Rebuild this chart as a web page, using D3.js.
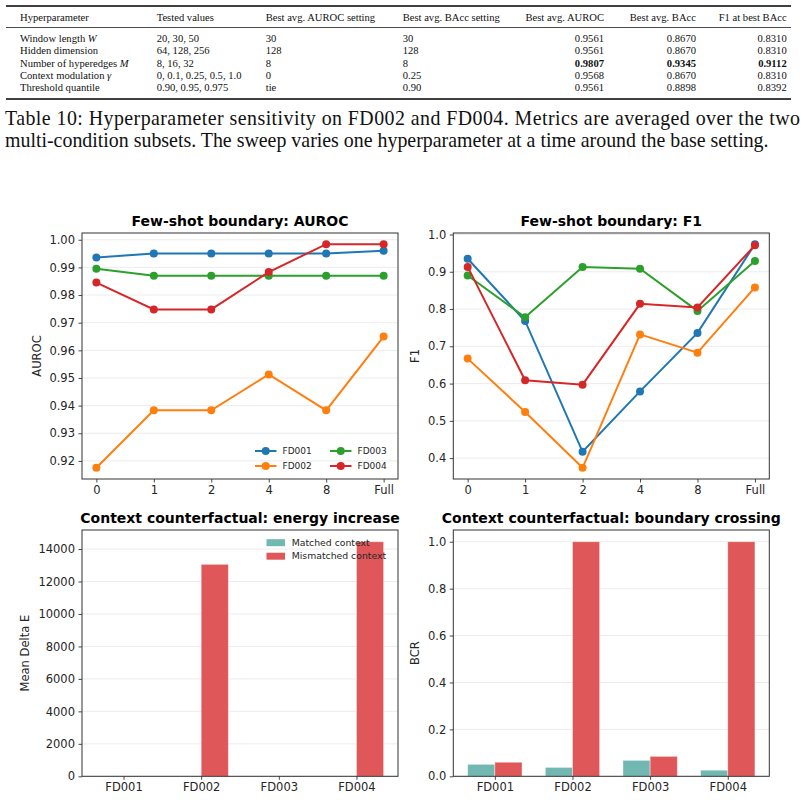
<!DOCTYPE html>
<html>
<head>
<meta charset="utf-8">
<script src="https://cdn.jsdelivr.net/npm/d3@7"></script>
<style>
  body { margin: 0; background: #fff; }
  .tick text { font-family: "DejaVu Sans", sans-serif; font-size: 11.5px; fill: #262626; }
  .tick line { stroke: #333; stroke-width: 0.9; }
  .serif { font-family: "Liberation Serif", "Times New Roman", serif; fill: #111; }
</style>
</head>
<body>
<div id="chart"></div>
<script>
// table data
var tableHeader = ["Hyperparameter", "Tested values", "Best avg. AUROC setting", "Best avg. BAcc setting", "Best avg. AUROC", "Best avg. BAcc", "F1 at best BAcc"];
var paramNames = [["Window length ", "W"], ["Hidden dimension", ""], ["Number of hyperedges ", "M"], ["Context modulation ", "\u03b3"], ["Threshold quantile", ""]];
var testedValues = ["20, 30, 50", "64, 128, 256", "8, 16, 32", "0, 0.1, 0.25, 0.5, 1.0", "0.90, 0.95, 0.975"];
var bestAurocSetting = ["30", "128", "8", "0", "tie"];
var bestBaccSetting = ["30", "128", "8", "0.25", "0.90"];
var bestAuroc = ["0.9561", "0.9561", "0.9807", "0.9568", "0.9561"];
var bestBacc = ["0.8670", "0.8670", "0.9345", "0.8670", "0.8898"];
var f1AtBestBacc = ["0.8310", "0.8310", "0.9112", "0.8310", "0.8392"];
var boldRow = 2;

var captionLines = [
  "Table 10: Hyperparameter sensitivity on FD002 and FD004.  Metrics are averaged over the two",
  "multi-condition subsets. The sweep varies one hyperparameter at a time around the base setting."
];

// few-shot data
var shots = ["0", "1", "2", "4", "8", "Full"];
var subsets = ["FD001", "FD002", "FD003", "FD004"];
var aurocFD001 = [0.9936, 0.995, 0.995, 0.995, 0.995, 0.996];
var aurocFD002 = [0.9175, 0.9383, 0.9383, 0.9513, 0.9383, 0.9650];
var aurocFD003 = [0.9895, 0.987, 0.987, 0.987, 0.987, 0.987];
var aurocFD004 = [0.9845, 0.9748, 0.9748, 0.9883, 0.9984, 0.9984];
var f1FD001 = [0.935, 0.768, 0.417, 0.579, 0.736, 0.974];
var f1FD002 = [0.667, 0.524, 0.374, 0.732, 0.683, 0.858];
var f1FD003 = [0.890, 0.778, 0.913, 0.908, 0.795, 0.929];
var f1FD004 = [0.913, 0.609, 0.597, 0.814, 0.804, 0.971];
var aurocTicks = [0.92, 0.93, 0.94, 0.95, 0.96, 0.97, 0.98, 0.99, 1.00];
var f1Ticks = [0.4, 0.5, 0.6, 0.7, 0.8, 0.9, 1.0];

// counterfactual data
var matchedEnergy = [3, 4, 2, 5];
var mismatchedEnergy = [10, 13057, 15, 14450];
var energyTicks = [0, 2000, 4000, 6000, 8000, 10000, 12000, 14000];
var matchedBCR = [0.051, 0.038, 0.068, 0.026];
var mismatchedBCR = [0.060, 1.0, 0.085, 1.0];
var bcrTicks = [0, 0.2, 0.4, 0.6, 0.8, 1.0];

var lineColors = ["#1f77b4", "#ff7f0e", "#2ca02c", "#d62728"];
var matchedColor = "#72b8b2";
var mismatchedColor = "#e0575a";

var svg = d3.select("#chart").append("svg")
  .attr("width", 805)
  .attr("height", 800);

svg.append("rect").attr("width", 805).attr("height", 800).attr("fill", "#fff");

// ---------- table ----------
var table = svg.append("g");
var ruleX0 = 6, ruleX1 = 791;
table.append("line").attr("x1", ruleX0).attr("x2", ruleX1).attr("y1", 6).attr("y2", 6).attr("stroke", "#000").attr("stroke-width", 1.3);
table.append("line").attr("x1", ruleX0).attr("x2", ruleX1).attr("y1", 27.5).attr("y2", 27.5).attr("stroke", "#000").attr("stroke-width", 0.7);
table.append("line").attr("x1", ruleX0).attr("x2", ruleX1).attr("y1", 99).attr("y2", 99).attr("stroke", "#000").attr("stroke-width", 1.3);

var colX = [20, 156.7, 265.7, 402.7, 604, 696, 786.7];
var colAnchor = ["start", "start", "start", "start", "end", "end", "end"];
var tableFont = 10.6;

tableHeader.forEach(function(h, i) {
  table.append("text").attr("class", "serif")
    .attr("x", colX[i]).attr("y", 20.5)
    .attr("text-anchor", colAnchor[i])
    .attr("font-size", tableFont)
    .text(h);
});

var rowY = [42, 54.3, 66.6, 78.9, 91.2];
paramNames.forEach(function(p, r) {
  var t = table.append("text").attr("class", "serif")
    .attr("x", colX[0]).attr("y", rowY[r]).attr("font-size", tableFont);
  t.append("tspan").text(p[0]);
  if (p[1]) t.append("tspan").attr("font-style", "italic").text(p[1]);
  var cols = [testedValues, bestAurocSetting, bestBaccSetting, bestAuroc, bestBacc, f1AtBestBacc];
  cols.forEach(function(col, c) {
    table.append("text").attr("class", "serif")
      .attr("x", colX[c + 1]).attr("y", rowY[r])
      .attr("text-anchor", colAnchor[c + 1])
      .attr("font-size", tableFont)
      .attr("font-weight", (r == boldRow && c >= 3) ? "bold" : "normal")
      .text(col[r]);
  });
});

// caption
svg.append("text").attr("class", "serif")
  .attr("x", 5).attr("y", 124.5).attr("font-size", 19.9)
  .attr("textLength", 795).attr("lengthAdjust", "spacing")
  .text(captionLines[0]);
svg.append("text").attr("class", "serif")
  .attr("x", 5).attr("y", 146.5).attr("font-size", 19.9)
  .text(captionLines[1]);

// ---------- helpers ----------
function frame(g, w, h) {
  g.append("rect").attr("width", w).attr("height", h)
    .attr("fill", "none").attr("stroke", "#333").attr("stroke-width", 1);
}

function grid(g, y, ticks, w) {
  g.append("g").selectAll("line").data(ticks).enter().append("line")
    .attr("x1", 0).attr("x2", w)
    .attr("y1", d => y(d)).attr("y2", d => y(d))
    .attr("stroke", "#b0b0b0").attr("stroke-opacity", 0.3).attr("stroke-width", 0.8);
}

function axes(g, x, y, h, yTicks, yFmt, xTicks, xFmt) {
  var bottomAxis = d3.axisBottom(x).tickSize(3.5).tickPadding(3.5);
  if (xTicks) bottomAxis.tickValues(xTicks).tickFormat(xFmt);
  g.append("g").attr("transform", `translate(0, ${h})`).call(bottomAxis)
    .call(a => a.select(".domain").remove());
  g.append("g").call(d3.axisLeft(y).tickValues(yTicks).tickFormat(yFmt).tickSize(3.5).tickPadding(3.5))
    .call(a => a.select(".domain").remove());
}

function titleAndLabel(g, w, h, title, ylab, ylabX) {
  g.append("text").attr("x", w / 2).attr("y", -7.5)
    .attr("text-anchor", "middle")
    .attr("font-family", "DejaVu Sans, sans-serif").attr("font-weight", "bold")
    .attr("font-size", 14).attr("fill", "#000")
    .text(title);
  g.append("text")
    .attr("transform", `translate(${ylabX}, ${h / 2}) rotate(-90)`)
    .attr("text-anchor", "middle").attr("dy", "0.35em")
    .attr("font-family", "DejaVu Sans, sans-serif").attr("font-size", 11.5).attr("fill", "#262626")
    .text(ylab);
}

// ---------- line charts ----------
function lineChart(left, top, series, yTicks, yFmt, title, ylab, ylabX, showLegend) {
  var w = 316, h = 246;
  var g = svg.append("g").attr("transform", `translate(${left}, ${top})`);
  var all = [].concat.apply([], series);
  var lo = d3.min(all), hi = d3.max(all), pad = (hi - lo) * 0.05;

  var x = d3.scalePoint().domain(shots).range([0, w]).padding(0.25);
  var y = d3.scaleLinear().domain([lo - pad, hi + pad]).range([h, 0]);

  grid(g, y, yTicks, w);

  var line = d3.line().x((d, i) => x(shots[i])).y(d => y(d));
  series.forEach(function(s, k) {
    g.append("path").datum(s)
      .attr("d", line).attr("fill", "none")
      .attr("stroke", lineColors[k]).attr("stroke-width", 2);
    g.append("g").selectAll("circle").data(s).enter().append("circle")
      .attr("cx", (d, i) => x(shots[i])).attr("cy", d => y(d))
      .attr("r", 4).attr("fill", lineColors[k]);
  });

  axes(g, x, y, h, yTicks, yFmt);
  frame(g, w, h);
  titleAndLabel(g, w, h, title, ylab, ylabX);

  if (showLegend) {
    var legend = g.append("g");
    subsets.forEach(function(name, k) {
      var lx = (k < 2 ? 173 : 248), ly = (k % 2 == 0 ? 218 : 233);
      legend.append("line").attr("x1", lx).attr("x2", lx + 21.5).attr("y1", ly).attr("y2", ly)
        .attr("stroke", lineColors[k]).attr("stroke-width", 2);
      legend.append("circle").attr("cx", lx + 10.75).attr("cy", ly).attr("r", 4).attr("fill", lineColors[k]);
      legend.append("text").attr("x", lx + 27.5).attr("y", ly).attr("dy", "0.35em")
        .attr("font-family", "DejaVu Sans, sans-serif").attr("font-size", 9).attr("fill", "#262626")
        .text(name);
    });
  }
}

lineChart(82, 233, [aurocFD001, aurocFD002, aurocFD003, aurocFD004], aurocTicks, d3.format(".2f"),
  "Few-shot boundary: AUROC", "AUROC", -45, true);
lineChart(453.3, 233, [f1FD001, f1FD002, f1FD003, f1FD004], f1Ticks, d3.format(".1f"),
  "Few-shot boundary: F1", "F1", -38.5, false);

// ---------- bar charts ----------
function barChart(left, top, matched, mismatched, yMax, yTicks, yFmt, title, ylab, ylabX, showLegend) {
  var w = 316, h = 246.3;
  var bw = 0.35;
  var g = svg.append("g").attr("transform", `translate(${left}, ${top})`);

  var x = d3.scaleLinear().domain([-bw - 0.185, subsets.length - 1 + bw + 0.185]).range([0, w]);
  var y = d3.scaleLinear().domain([0, yMax * 1.05]).range([h, 0]);

  grid(g, y, yTicks, w);

  var unit = x(1) - x(0);
  g.append("g").selectAll("rect").data(matched).enter().append("rect")
    .attr("x", (d, i) => x(i - bw)).attr("width", bw * unit)
    .attr("y", d => y(d)).attr("height", d => h - y(d))
    .attr("fill", matchedColor).attr("stroke", "#fff").attr("stroke-opacity", 0.5).attr("stroke-width", 0.8);
  g.append("g").selectAll("rect").data(mismatched).enter().append("rect")
    .attr("x", (d, i) => x(i)).attr("width", bw * unit)
    .attr("y", d => y(d)).attr("height", d => h - y(d))
    .attr("fill", mismatchedColor).attr("stroke", "#fff").attr("stroke-opacity", 0.5).attr("stroke-width", 0.8);

  axes(g, x, y, h, yTicks, yFmt, d3.range(subsets.length), i => subsets[i]);
  frame(g, w, h);
  titleAndLabel(g, w, h, title, ylab, ylabX);

  if (showLegend) {
    var legend = g.append("g");
    [["Matched context", matchedColor], ["Mismatched context", mismatchedColor]].forEach(function(item, k) {
      var ly = 12.7 + k * 13.5;
      legend.append("rect").attr("x", 184.5).attr("y", ly - 3.5).attr("width", 18.5).attr("height", 7)
        .attr("fill", item[1]);
      legend.append("text").attr("x", 209.7).attr("y", ly).attr("dy", "0.35em")
        .attr("font-family", "DejaVu Sans, sans-serif").attr("font-size", 9.3).attr("fill", "#262626")
        .text(item[0]);
    });
  }
}

barChart(82, 530, matchedEnergy, mismatchedEnergy, d3.max(mismatchedEnergy), energyTicks, d3.format("d"),
  "Context counterfactual: energy increase", "Mean Delta E", -57, true);
barChart(453.3, 530, matchedBCR, mismatchedBCR, d3.max(mismatchedBCR), bcrTicks, d3.format(".1f"),
  "Context counterfactual: boundary crossing", "BCR", -38.5, false);
</script>
</body>
</html>
